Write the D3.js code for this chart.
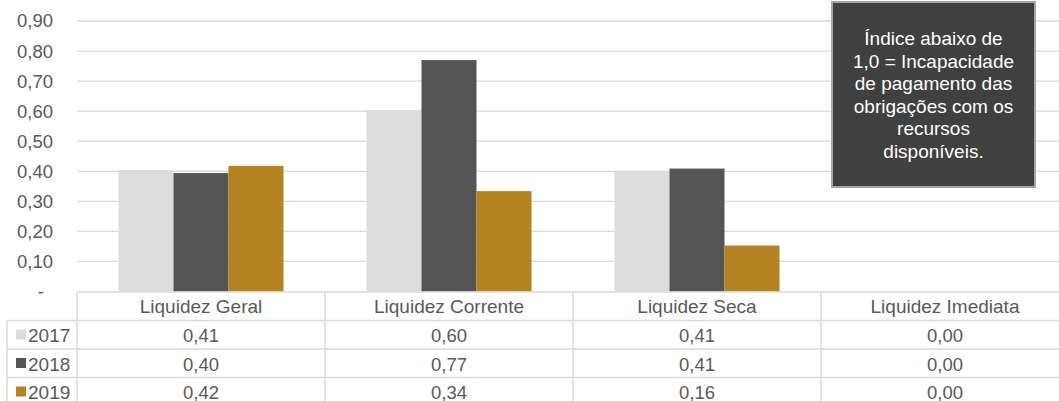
<!DOCTYPE html>
<html>
<head>
<meta charset="utf-8">
<script src="https://cdn.jsdelivr.net/npm/d3@7"></script>
<style>
    body { margin: 0; background: #fff; }
    svg { display: block; font-family: "Liberation Sans", Arial, sans-serif; }
</style>
</head>
<body>
<svg id="chart" width="1059" height="401"></svg>
<script>
// chart data
const categories = ["Liquidez Geral", "Liquidez Corrente", "Liquidez Seca", "Liquidez Imediata"];
const years = ["2017", "2018", "2019"];
const values2017 = [0.404, 0.603, 0.402, 0];
const values2018 = [0.394, 0.770, 0.409, 0];
const values2019 = [0.418, 0.334, 0.153, 0];
const table2017 = ["0,41", "0,60", "0,41", "0,00"];
const table2018 = ["0,40", "0,77", "0,41", "0,00"];
const table2019 = ["0,42", "0,34", "0,16", "0,00"];
const yTicks = [0, 0.1, 0.2, 0.3, 0.4, 0.5, 0.6, 0.7, 0.8, 0.9];
const noteLines = ["Índice abaixo de", "1,0 = Incapacidade", "de pagamento das",
    "obrigações com os", "recursos", "disponíveis."];

const colors = ["#dcdcdc", "#555555", "#b38421"];
const textColor = "#595959";
const lineColor = "#d9d9d9";

function render() {
    const series = [values2017, values2018, values2019];
    const tableRows = [table2017, table2018, table2019];

    const left = 77;
    const band = 248;
    const rowTop = 292;
    const rowH = 28.5;

    var svg = d3.select("#chart");

    var x = d3.scaleBand()
        .domain(categories)
        .range([left, left + band * categories.length]);

    var xSub = d3.scaleBand()
        .domain(years)
        .range([41.5, 206.5]);

    var y = d3.scaleLinear()
        .domain([0, 0.9])
        .range([291.5, 21]);

    // gridlines
    svg.append("g")
        .selectAll("line")
        .data(yTicks.slice(1))
        .join("line")
        .attr("x1", left)
        .attr("x2", 1059)
        .attr("y1", (d) => y(d))
        .attr("y2", (d) => y(d))
        .attr("stroke", lineColor)
        .attr("stroke-width", 1.3);

    // y labels
    var fmt = d3.format(".2f");
    svg.append("g")
        .selectAll("text")
        .data(yTicks)
        .join("text")
        .attr("x", (d) => d === 0 ? 44 : 53)
        .attr("y", (d) => y(d))
        .attr("dy", "0.35em")
        .attr("text-anchor", "end")
        .attr("font-size", 18.5)
        .attr("fill", textColor)
        .text((d) => d === 0 ? "-" : fmt(d).replace(".", ","));

    // bars
    years.forEach(function (yr, i) {
        svg.append("g")
            .selectAll("rect")
            .data(series[i])
            .join("rect")
            .attr("x", (d, j) => x(categories[j]) + xSub(yr))
            .attr("y", (d) => y(d))
            .attr("width", xSub.bandwidth())
            .attr("height", (d) => y(0) - y(d))
            .attr("fill", colors[i]);
    });

    // data table
    var table = svg.append("g")
        .attr("stroke", lineColor)
        .attr("stroke-width", 1.5);

    table.append("line")
        .attr("x1", left).attr("x2", 1069)
        .attr("y1", rowTop).attr("y2", rowTop);

    [1, 2, 3].forEach(function (r) {
        table.append("line")
            .attr("x1", 7).attr("x2", 1069)
            .attr("y1", rowTop + r * rowH).attr("y2", rowTop + r * rowH);
    });

    table.append("line")
        .attr("x1", 7).attr("x2", 7)
        .attr("y1", rowTop + rowH).attr("y2", 401);

    table.selectAll(".vline")
        .data(categories)
        .join("line")
        .attr("class", "vline")
        .attr("x1", (d) => x(d))
        .attr("x2", (d) => x(d))
        .attr("y1", rowTop)
        .attr("y2", 401);

    svg.append("g")
        .selectAll("text")
        .data(categories)
        .join("text")
        .attr("x", (d) => x(d) + band / 2)
        .attr("y", rowTop + 21)
        .attr("text-anchor", "middle")
        .attr("font-size", 19)
        .attr("fill", textColor)
        .text((d) => d);

    years.forEach(function (yr, i) {
        var top = rowTop + (i + 1) * rowH;
        var row = svg.append("g");

        row.append("rect")
            .attr("x", 16)
            .attr("y", top + 9)
            .attr("width", 10)
            .attr("height", 10)
            .attr("fill", colors[i]);

        row.append("text")
            .attr("x", 28)
            .attr("y", top + 21.5)
            .attr("font-size", 19)
            .attr("fill", textColor)
            .text(yr);

        row.selectAll(".val")
            .data(tableRows[i])
            .join("text")
            .attr("class", "val")
            .attr("x", (d, j) => x(categories[j]) + band / 2)
            .attr("y", top + 21.5)
            .attr("text-anchor", "middle")
            .attr("font-size", 18.5)
            .attr("fill", textColor)
            .text((d) => d);
    });

    // note box
    var note = svg.append("g");
    note.append("rect")
        .attr("x", 832)
        .attr("y", 2)
        .attr("width", 203)
        .attr("height", 185)
        .attr("fill", "#404040")
        .attr("stroke", "#a6a6a6")
        .attr("stroke-width", 2);

    note.selectAll("text")
        .data(noteLines)
        .join("text")
        .attr("x", 933.5)
        .attr("y", (d, i) => 45 + i * 22.6)
        .attr("text-anchor", "middle")
        .attr("font-size", 19)
        .attr("fill", "#ffffff")
        .text((d) => d);
}

render();
</script>
</body>
</html>
